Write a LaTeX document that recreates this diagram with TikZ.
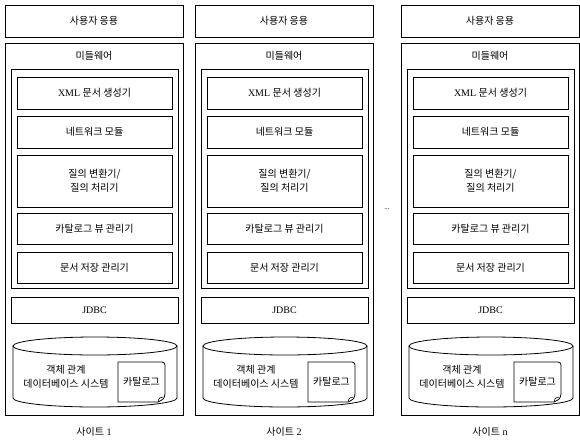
\documentclass[tikz,border=0pt]{standalone}
\usepackage{fontspec}
\setmainfont{Liberation Serif}
\newfontfamily\kr{Noto Sans CJK KR}
\begin{document}
\begin{tikzpicture}[x=1pt,y=-1pt,
  box/.style={draw=black, line width=0.8pt, inner sep=0pt, outer sep=0pt, align=center, font=\fontsize{10}{14}\selectfont},
  lbl/.style={inner sep=0pt, align=center, font=\fontsize{10}{13.5}\selectfont},
  shp/.style={draw=black, line width=0.8pt}]
\useasboundingbox (0,0) rectangle (580,442);
\foreach \o/\s in {0/1,190/2,396/n}{
  \node[box, minimum width=178pt, minimum height=32pt] (top\s) at ({94+\o},21) {\kr 사용자 응용};
  \node[box, minimum width=178pt, minimum height=372pt] (frame\s) at ({94+\o},229) {};
  \node[lbl] (mwl\s) at ({94+\o},56) {\kr 미들웨어};
  \node[box, minimum width=167pt, minimum height=219pt] (mw\s) at ({94.5+\o},178.5) {};
  \node[box, minimum width=155pt, minimum height=32pt] (xml\s) at ({94.5+\o},93) {XML {\kr 문서 생성기}};
  \node[box, minimum width=155pt, minimum height=32pt] (net\s) at ({94.5+\o},132) {\kr 네트워크 모듈};
  \node[box, minimum width=155pt, minimum height=52pt] (qry\s) at ({94.5+\o},181) {\kr 질의 변환기/\\\kr 질의 처리기};
  \node[box, minimum width=155pt, minimum height=31pt] (cvm\s) at ({94.5+\o},228.5) {\kr 카탈로그 뷰 관리기};
  \node[box, minimum width=155pt, minimum height=31pt] (dsm\s) at ({94.5+\o},267.5) {\kr 문서 저장 관리기};
  \node[box, minimum width=167pt, minimum height=26pt] (jdbc\s) at ({94.5+\o},310) {JDBC};
  % cylinder
  \draw[shp] ({95+\o},346) ellipse [x radius=82pt, y radius=9pt];
  \draw[shp] ({13+\o},346) -- ({13+\o},398) arc[start angle=180, end angle=360, x radius=82pt, y radius=9pt] -- ({177+\o},346);
  % catalog document
  \draw[shp] ({118+\o},362) -- ({162+\o},362) arc[start angle=90, end angle=0, radius=3pt] -- ({165+\o},394)
     .. controls ({164+\o},399) .. ({158+\o},402) -- ({118+\o},402) -- cycle;
  \draw[shp, line width=0.6pt] ({158+\o},402) .. controls ({159+\o},398) .. ({163+\o},397);
  \node[lbl] (cat\s) at ({141.5+\o},382) {\kr 카탈로그};
  \node[lbl] (db\s) at ({66+\o},377) {\kr 객체 관계\\\kr 데이터베이스 시스템};
  \node[lbl] (site\s) at ({94+\o},432) {{\kr 사이트} \s};
}
\node[lbl, font=\fontsize{7}{8}\selectfont] (dots) at (387,209) {...};
\end{tikzpicture}
\end{document}
